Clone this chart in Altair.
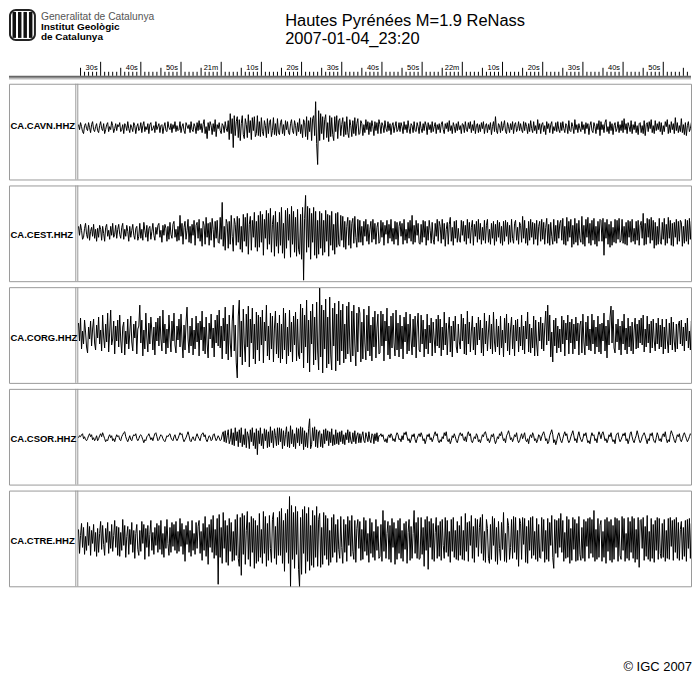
import altair as alt
import pandas as pd

FONT = "Liberation Sans"

STATIONS = ["CA.CAVN.HHZ", "CA.CEST.HHZ", "CA.CORG.HHZ", "CA.CSOR.HHZ", "CA.CTRE.HHZ"]
TITLE_1 = "Hautes Pyrénées M=1.9 ReNass"
TITLE_2 = "2007-01-04_23:20"
ORG_LINES = ["Generalitat de Catalunya", "Institut Geològic", "de Catalunya"]
COPYRIGHT = "© IGC 2007"

# time ruler (seconds)
TICK_TIMES = [30, 40, 50, 60, 70, 80, 90, 100, 110, 120, 130, 140, 150, 160, 170]
TICK_LABELS = ["30s", "40s", "50s", "21m", "10s", "20s", "30s", "40s", "50s",
               "22m", "10s", "20s", "30s", "40s", "50s"]
RULER_START, RULER_END = 25, 176
X_DOMAIN = [7.2, 176.9]
T0 = 24.5
DT = 0.25

# amplitudes (rows of 20 samples = 5 s each)
CAVN = [
    3, -2, 5, 1, -4, -6, 2, 4, -1, -3, 5, 0, -5, 3, 6, -2, -4, 1, 4, -3,
    -5, 2, 6, -1, -3, 4, -6, -2, 3, 5, -4, 1, -2, 6, 2, -5, -1, 4, -3, 3,
    1, 5, -4, -2, 3, -6, 4, 2, -3, 6, -1, -5, 3, 0, -4, 5, 2, -6, 1, 4,
    -3, -1, 5, -5, 2, 6, -4, 1, -2, 4, -6, 3, 5, -3, -1, 2, -5, 6, -2, 1,
    4, -5, 2, 3, -6, 1, 5, -3, -4, 6, 0, -2, 4, -5, 3, -1, 6, -4, 2, -3,
    -2, 6, -5, 1, 4, -3, -6, 5, 2, -1, 3, -5, 6, -2, -4, 4, 1, -6, 5, -3,
    7, -2, 4, -5, 3, 8, -6, 1, -11, 5, -3, 6, 2, -7, 4, -4, 8, -9, 3, -1,
    5, -3, -6, 4, 2, -5, 6, -1, -4, 7, -12, 14, -6, 9, -20, 12, -8, 6, 11, -10,
    8, -13, 4, 12, -7, -11, 9, 3, -10, 13, -5, 7, -12, 10, -3, 11, -9, -6, 12, -8,
    6, -9, 10, -4, -8, 7, 2, -10, 9, -6, 5, 8, -9, -3, 10, -7, 4, -8, 9, -5,
    -7, 5, 8, -6, 3, -8, 7, -2, 6, -5, -7, 4, 8, -3, -6, 7, 2, -8, 5, -4,
    9, -6, 3, -10, 8, 5, -9, 11, -12, 7, -4, 10, -13, 9, 12, -8, 26, -16, -37, 17,
    -13, 14, -6, 11, -12, 8, 13, -10, 5, -14, 12, -9, 10, -7, -13, 11, -4, 12, -11, 7,
    9, -8, 3, 10, -9, 6, -7, 11, -5, -10, 8, 2, -9, 7, -6, 10, -8, 4, 9, -7,
    -6, 7, 4, -8, 3, -5, 8, -2, 6, -7, 5, -4, 7, 1, -8, 6, -3, 5, -6, 8,
    3, -6, 5, 2, -5, 7, -1, -4, 6, -3, 4, -7, 2, 5, -5, 1, 6, -4, -2, 5,
    -4, 5, 1, -6, 6, -2, 3, -5, 7, -1, -6, 4, 2, -5, 6, -3, -4, 5, 1, -6,
    6, -1, -5, 4, -3, 6, 2, -7, 5, -2, 3, -5, 6, -4, 1, 5, -6, 3, -2, 4,
    -5, 3, 6, -2, -6, 4, -1, 5, -4, 7, -3, 2, -6, 5, 1, -5, 4, -3, 6, -2,
    2, -6, 4, 3, -5, 6, -2, -4, 5, -1, 6, -5, 3, -3, 7, -6, 2, 4, -5, 3,
    -4, 5, -1, 6, -6, 2, 4, -5, 3, -2, 5, -7, 1, 6, -4, 11, -3, -6, 4, 2,
    -5, 6, -3, 2, 7, -4, -6, 5, 1, -5, 4, -2, 6, -6, 3, 5, -4, -1, 6, -3,
    4, -2, -5, 6, -3, 5, 1, -6, 4, -4, 7, -1, -5, 6, -3, 2, -6, 8, -2, 4,
    -6, 3, 5, -4, 2, -7, 6, -1, 4, -5, 3, 6, -6, 1, -3, 5, -4, 6, -2, -5,
    5, -3, 6, -1, -5, 4, 2, -6, 7, -3, -4, 5, 1, -6, 8, -2, 3, -5, 4, -1,
    -4, 6, -2, 3, -6, 5, -1, 4, -7, 2, 6, -3, -5, 5, 1, -6, 4, -2, 7, -8,
    6, -2, 3, -5, 5, 8, -4, 1, -6, 6, -3, 4, -7, 2, 5, -4, -1, 6, -5, 3,
    -3, 7, -5, 9, -2, 4, -6, 5, 1, -4, 7, -6, 3, -2, 6, -5, 2, -7, 4, 5,
    -5, 2, -6, 7, -8, 3, 5, -4, 6, -1, 8, -5, 2, -6, 7, -3, 4, -2, 6, -4,
    5, -7, 2, -4, 6, 1, 8, -6, 3, -5, 6, -2, 4, -6, 10, -3, 5, -5, 2, -4,
    9, -5, 3, -7, 5, -8, 2, 6, -4, -1, 5, -6, 4, -7, 3, 6, -5, 1, -6, 4,
]

CEST = [
    6, -3, 8, 2, -7, -5, 4, 9, -2, -6, 7, -8, 1, 5, -4, 8, -6, 3, -9, 4,
    -5, 7, 3, -8, 6, -1, -9, 5, 8, -4, 2, -7, 6, -3, 9, -5, -2, 7, -6, 3,
    8, -2, -6, 5, 9, -7, 3, -4, 7, 1, -9, 6, -5, 2, 8, -3, -7, 4, 6, -8,
    -4, 9, -6, 3, -8, 10, 2, -5, 7, -9, 4, 6, -7, 1, 9, -3, -8, 5, -2, 7,
    9, -5, 2, -10, 7, -3, 8, 4, -9, 6, -7, 10, -2, -6, 8, 11, -5, 3, -9, 6,
    -8, 17, -4, 9, -12, 5, 11, -7, 2, 13, -10, 6, -11, 8, -3, 12, -13, 7, 10, -6,
    13, -9, 4, -14, 11, 7, -12, 15, -5, 9, -13, 10, -8, 14, 3, -15, 11, -6, 12, -10,
    -11, 15, -7, 30, -14, 6, -18, 13, 9, -16, 11, -12, 17, -4, -19, 14, 8, -13, 16, -10,
    14, -17, 6, -20, 18, -9, 15, -14, 19, -22, 8, 16, -18, 12, -5, 20, -15, 11, -19, 17,
    -15, 21, -10, 18, -23, 13, -6, 22, -17, 19, -12, 24, -20, 8, 17, -24, 21, -14, 10, -21,
    20, -13, 25, -21, 9, -26, 22, -16, 24, -8, 18, -25, 26, -12, 21, -20, 15, -24, 23, -17,
    -22, 18, -27, 25, -48, 14, 37, -20, 26, -15, 24, -27, 19, -10, 25, -23, 21, -26, 12, -22,
    21, -16, 19, -23, 12, -20, 22, -9, 18, -24, 17, -13, 21, -18, 8, -22, 19, -15, 20, -12,
    -14, 17, -8, 16, -15, 11, -17, 6, 15, -13, 12, -16, 9, 14, -11, 16, -5, -15, 13, -10,
    12, -10, 6, -13, 11, -4, 13, -9, 8, -12, 3, 11, -10, 13, -7, 9, -12, 5, 10, -11,
    -9, 12, -5, 10, -13, 7, -2, 12, -11, 8, -6, 13, -9, 4, -12, 11, -7, 10, -13, 6,
    11, -4, 9, -12, 13, -8, 3, -11, 10, -6, 12, -9, 17, -12, 7, -10, 12, -3, 9, -11,
    -12, 8, -10, 12, -5, 11, -13, 6, -8, 12, 2, -11, 10, -7, -12, 9, -4, 13, -9, 11,
    6, -11, 13, -7, 9, -14, 3, 10, -12, 8, 15, -9, 5, -13, 11, -6, 12, -10, 4, -8,
    -10, 12, -3, 11, -9, 7, -12, 13, -6, 10, -11, 5, 12, -13, 8, -4, 11, -10, 13, -7,
    9, -12, 5, -8, 12, -11, 7, 13, -10, 3, -12, 9, -6, 11, -13, 8, -9, 12, -5, 10,
    -11, 6, -13, 11, -9, 12, -4, 10, -12, 7, -10, 13, -6, -11, 9, 12, -8, 5, -12, 10,
    7, -10, 16, -6, 12, -11, 4, -13, 11, -8, 13, -5, 10, -12, 9, -7, 12, -13, 6, 11,
    -9, 13, -7, 10, -12, 5, 14, -11, 8, -13, 10, -4, -12, 13, -9, 7, -11, 12, -6, 9,
    12, -8, 14, -12, 6, -13, 15, -9, 11, -5, 13, -15, 7, -12, 14, -10, 9, -13, 12, -6,
    -10, 16, -12, 7, -14, 13, -5, 15, -11, 9, -13, 12, -8, 14, -12, 6, -14, 11, -9, 13,
    12, -9, 14, -23, 10, -6, 13, -12, 8, -15, 11, -13, 5, -10, 13, -11, 12, -7, 14, -10,
    -8, 13, -11, 6, -12, 10, -13, 12, -5, 11, -10, 13, -9, 4, -12, 11, -8, 12, -13, 7,
    11, -6, 19, -13, 9, -12, 14, -5, 13, -11, 15, -8, 12, -16, 10, -13, 6, -12, 14, -9,
    -12, 10, -7, 14, -13, 8, -11, 15, -6, 12, -13, 9, -14, 10, -5, 13, -12, 11, -9, 12,
    10, -14, 6, -11, 13, -9, 12, -12, 14, -7, 11, -13, 8, -12, 13, -6, 10, -12, 9, -13,
]

CORG = [
    12, -6, 17, -14, 4, -9, 15, 3, -12, -18, 8, -4, 14, -11, 6, 16, -8, -15, 10, -3,
    18, -9, 5, -16, 20, -2, -13, 11, -7, 22, -17, 3, 25, -10, -4, 14, -19, 9, -6, 15,
    -12, 20, -5, -18, 8, 13, -20, 4, -9, 16, -14, 2, 19, -7, -16, 11, -3, 14, -19, 6,
    9, 30, -8, 15, -21, 5, -14, 22, -3, -17, 12, -9, 18, 4, -15, 8, -20, 13, -6, 17,
    -11, 19, -4, -16, 25, -8, 11, -19, 6, -13, 20, -2, -17, 14, -6, 22, -10, -18, 9, -5,
    16, -12, 21, -6, -23, 10, -15, 13, 28, -4, -18, 9, -11, 17, -20, 5, -14, 19, -7, 12,
    -21, 14, -5, 24, -16, 8, -19, 18, -9, -23, 12, -4, 21, -13, 7, -22, 15, -8, 20, -11,
    25, -13, 9, -24, 17, -6, 28, -19, 11, -25, 20, -8, -22, 14, 30, -16, 10, -28, -43, 19,
    35, -22, 14, -30, 26, -9, -27, 21, -12, 29, -32, 16, -8, 27, -24, 11, -29, 23, -15, 20,
    -26, 18, -10, 25, -28, 13, -6, 30, -21, 9, -25, 22, -14, 19, -27, 7, 24, -19, 12, -23,
    20, -28, 11, -24, 27, -15, 22, -29, 8, -21, 25, -17, 13, -27, 19, -10, 23, -26, 16, -20,
    -24, 31, -18, 27, -33, 20, -12, 35, -28, 15, -37, 24, -9, 31, -30, 18, -25, 33, -16, -35,
    47, -22, 30, -38, 25, -14, 36, -33, 18, -29, 38, -20, -35, 27, -11, 32, -36, 21, -26, 34,
    -30, 25, -16, 31, -28, 11, -24, 29, -19, 33, -12, -27, 24, -21, 30, -9, -31, 22, -17, 28,
    22, -27, 13, -24, 26, -8, -25, 20, -16, 29, -21, 10, -26, 18, -12, 24, -23, 7, 21, -19,
    -18, 24, -11, 21, -26, 14, -6, 27, -20, 9, -24, 19, -13, 22, -8, -21, 25, -15, 12, -22,
    20, -14, 9, -24, 18, -7, 23, -19, 11, -16, 21, -5, -20, 16, -12, 19, -23, 8, 22, -15,
    -17, 20, -9, 15, -22, 6, -14, 21, -19, 10, -8, 17, -21, 13, -4, -18, 16, -11, 20, -13,
    16, -21, 8, -15, 23, -10, 12, -20, 5, 18, -17, 9, -22, 14, -6, 19, -12, -18, 11, -7,
    -14, 21, -6, 17, -19, 11, -20, 24, -9, 13, -17, 4, 19, -15, 8, -20, 12, -10, 18, -5,
    15, -18, 7, -21, 22, -9, 14, -16, 3, 20, -14, 11, -19, 23, -7, -17, 16, -12, 9, -20,
    19, -13, 5, -22, 17, -8, 21, -16, 12, -20, 6, 18, -14, 10, -21, 15, -6, 16, -17, 8,
    -11, 20, -15, 9, -19, 14, -4, 23, -17, 11, -18, 7, -13, 19, -21, 15, -9, -21, 13, -6,
    18, -14, 12, -16, 8, 24, -10, 30, -6, 20, -22, 3, -27, 15, -11, 17, -18, 9, -13, 6,
    -17, 19, -9, 15, -21, 12, -5, 20, -19, 13, -8, 16, -19, 11, -14, 18, -6, 12, -20, 10,
    14, -18, 21, -7, -20, 13, -11, 19, -15, 6, -16, 21, -9, 15, -19, 8, -12, 19, -17, 11,
    -19, 12, -6, 22, -16, 9, -23, 15, -10, 18, 29, -8, 25, -13, -18, 11, -7, 16, -15, 9,
    -20, 14, -9, 21, -15, 7, -19, 17, -12, 9, -16, 13, -19, 5, 17, -14, 11, -13, 15, -8,
    17, -10, 20, -17, 6, -12, 19, -8, 11, -18, 14, -13, 16, -6, -16, 12, -9, 17, -14, 10,
    -12, 16, -19, 8, -14, 16, -5, -18, 12, -10, 18, -15, 13, -7, -17, 11, -14, 10, 14, -9,
    15, -11, 8, -16, 12, -6, 17, -13, 4, -15, 14, -7, 16, -12, 9, -14, 6, 15, -11, 8,
]

CSOR = [
    0, 2, 1, 3, 4, -1, 1, -2, -3, -1, 2, 4, 1, 3, -2, 0, -3, -1, 2, -3,
    -1, 2, 4, 1, 5, 2, -1, -4, -2, -3, 1, 3, 0, 2, -3, -1, -4, 0, 3, 1,
    2, -2, -3, 1, 3, 5, 6, 1, -2, -4, -1, 2, -2, -3, 1, 3, 2, 4, -1, -3,
    -1, 2, 3, 1, -2, -5, -2, -3, 1, 2, 4, 1, -2, 0, -3, 1, 4, 5, 1, -3,
    -2, 1, 3, 2, -1, -3, -4, -1, 2, 1, 3, 4, 0, -2, -3, 1, 3, -1, -3, -1,
    2, 5, 3, 4, -1, -4, -2, 0, 3, 6, 2, -3, -4, -1, 1, -2, -3, 1, 4, 1,
    -1, -3, 2, 4, 5, 1, 3, -2, -4, -1, 2, 1, -3, -2, 3, 4, 0, -3, -1, 2,
    0, -3, -2, 3, 6, -4, 7, -5, 2, 8, -6, -2, 9, -7, 5, -8, 10, -3, 6, -9,
    8, -5, 10, -9, 3, -7, 9, -10, 6, 2, -11, 8, -4, 10, -8, 5, -11, 9, -17, 7,
    -6, 10, -8, 4, -11, 9, -3, 8, -10, 6, -9, 11, -5, 7, -10, 9, 2, -8, 10, -7,
    10, -4, 9, -11, 7, -8, 3, 11, -9, 6, -10, 12, -6, 8, -9, 4, -11, 10, -5, 9,
    -8, 11, -6, 10, -12, 7, -9, 5, -10, 9, 19, -11, -7, 10, -3, 11, -9, 8, -10, 6,
    7, -9, 4, -10, 8, -6, 9, -3, 7, -8, 6, -5, 9, -8, 3, -7, 8, -6, 5, -7,
    6, -4, 7, -6, 3, -7, 5, -2, 8, -5, 6, -3, -6, 5, -4, 7, -6, 2, 5, -5,
    4, -5, 2, 6, -3, -5, 5, 1, -4, 6, -2, -5, 4, 3, -6, 4, -3, 5, -4, 2,
    2, 4, 1, 3, -2, -4, -1, -5, 1, 3, 0, 4, 2, -3, -1, -4, 2, 5, 3, -2,
    -1, -4, 2, -2, 5, 3, 6, 1, -3, -1, -5, -2, 3, 1, 4, -2, -5, -1, 2, 4,
    1, 5, 2, -3, -1, -6, -2, 3, 1, 4, -2, 0, -4, -1, 3, 6, 2, 4, -3, -5,
    -2, -4, 1, -1, 5, 2, 6, -2, -4, -1, -6, -3, 2, 0, 4, 1, -3, -5, -1, 3,
    5, 2, 4, -1, -3, 1, -4, 3, 6, 2, 4, -3, -5, -2, 1, -1, 4, 2, -4, -2,
    -5, -1, 3, 1, 5, 6, 2, -3, -1, -5, -2, 3, 1, 4, -2, -6, -3, 1, -1, 4,
    2, 6, 1, -3, -1, -5, 2, 4, 7, 3, -2, 0, -4, -1, 3, 1, 5, -2, -5, -3,
    1, 4, -1, 2, 5, -2, -4, -1, -6, 1, 3, 0, 5, 2, -3, -1, -5, -2, 3, 2,
    -3, 1, 4, 6, 2, -3, -1, -6, -4, 2, 5, 8, 3, -5, -2, -7, -3, 2, 5, 1,
    -3, -5, -1, 3, 6, 2, 4, -2, -5, -3, 1, 4, 7, 2, -3, -1, -5, 2, 6, 1,
    -2, -4, -1, 4, 2, 5, -1, -5, -3, -6, 1, 5, 2, 3, -3, -1, -5, 2, 6, 3,
    -1, 4, 6, 2, -3, -1, -5, -2, 3, 1, 5, -1, -4, -2, -6, 2, 4, 5, -1, -4,
    -2, 1, 4, 2, 5, -3, -1, -6, -2, 4, 6, 1, -3, -5, -1, 2, 7, 3, -2, -5,
    -3, 1, 3, 5, 2, -2, -6, -1, -3, 4, 2, 5, -1, -4, -5, 0, 5, 2, -3, -1,
    -4, 2, 4, 1, 6, -1, -5, -2, -4, 3, 7, 4, 1, -3, -5, -1, 3, 1, 4, -2,
    -4, -1, 3, 5, 2, -1, -4, -2, 1, 4, 3, -2, -4, -1, 3, 5, 1, -2, -4, 1,
]

CTRE = [
    10, -14, 4, 16, -8, 12, -15, 3, -11, 17, -6, 13, -16, 9, -4, 15, -12, 7, -17, 11,
    -13, 6, 18, -10, 14, -5, -16, 11, -3, 17, -14, 8, -9, 15, -12, 4, 19, -8, 13, -16,
    12, -17, 7, -11, 20, -6, 14, -18, 3, 13, -15, 10, -5, 17, -13, 9, -19, 6, 15, -10,
    -16, 9, -12, 18, -4, 15, -20, 11, -8, 14, -17, 5, 19, -11, 7, -15, 12, -6, 16, -13,
    14, -10, 19, -15, 6, -18, 13, -9, 20, -4, -16, 12, -13, 17, -7, 15, -11, 18, -14, 8,
    -12, 21, -7, 16, -15, 10, -22, 14, -5, 18, -13, 9, -17, 19, -11, 6, -15, 17, -9, 13,
    19, -14, 8, -21, 16, -11, 23, -17, 12, -25, 15, -8, 20, -13, 24, -19, 10, -16, 21, -45,
    25, -18, 12, -24, 27, -9, 19, -23, 14, -26, 21, -12, 17, -22, 8, -21, 20, -16, 25, -19,
    -27, 22, -36, 26, -15, 24, -25, 9, 28, -20, 17, -27, 23, -13, 21, -29, 19, -24, 14, -22,
    26, -18, 10, -24, 28, -14, 23, -27, 16, -21, 24, -9, -23, 20, 27, -19, 13, -25, 22, -16,
    28, -16, 31, -24, 19, -32, 26, -13, 30, -24, 43, -48, 34, -20, 27, -29, 33, -15, 28, -30,
    -48, 22, -35, 30, -14, 33, -34, 26, -22, 32, -31, 14, -26, 29, -28, 24, -18, 33, -27, 20,
    26, -28, 12, -25, 27, -16, 24, -20, 21, -26, 9, -23, 22, -18, 25, -13, 15, -23, 20, -10,
    -19, 23, -8, -24, 20, -13, 15, -22, 23, -6, 19, -17, 24, -12, -20, 19, -23, 11, 20, -9,
    18, -21, 10, -20, 22, -12, 19, -16, 6, -23, 21, -14, 17, -18, 8, -21, 20, -11, 13, -19,
    -17, 15, -22, 29, -12, 19, -19, 6, 18, -20, 14, -23, 21, -8, 17, -25, 11, -20, 19, -14,
    21, -19, 9, -22, 16, -10, 18, -24, 7, 20, -21, 13, -19, 6, 29, -14, 17, -19, 22, -20,
    -19, 22, -15, 12, -27, 20, -11, 23, -30, 18, -8, 21, -20, 16, -22, 7, 22, -19, 14, -17,
    18, -21, 20, -6, -19, 22, -13, 19, -17, 8, -23, 20, -12, 22, -18, 9, -20, 18, -21, 14,
    -16, 23, -20, 9, -21, 26, -12, 17, -22, 18, -6, 24, -19, 13, -23, 21, -8, 20, -17, 12,
    22, -14, 25, -21, 8, -23, 20, 11, -19, -24, 15, -20, 23, -6, 21, -22, 12, -25, 18, -9,
    -21, 17, -10, 27, -22, 6, -23, 21, 14, -20, -8, 20, -19, 23, -13, 22, -20, 9, -27, 21,
    16, -20, 22, -5, 21, -23, 13, -24, 19, -11, 22, -19, 23, -16, 8, -20, 21, -22, 15, -18,
    -19, 22, -12, 20, -23, 9, -20, 21, -22, 17, -6, 24, -18, -29, 20, -14, 19, -18, 21, -8,
    26, -13, 19, -22, 7, -19, 23, -18, 20, -24, 11, -21, 22, -10, 20, -22, 16, -21, 23, -15,
    -21, 12, -19, 20, -22, 18, -7, 21, -19, 22, -14, 20, -18, 29, -22, 10, -20, 21, -18, 14,
    19, -22, 8, -18, 20, -24, 22, -12, 18, -21, 20, -23, 14, -20, 22, -8, 21, -22, 19, -16,
    -20, 23, -11, 21, -22, 6, -19, 22, -21, 18, -13, 23, -19, 21, -23, 10, -20, 22, -28, 19,
    20, -9, 22, -21, 13, -17, 24, -20, 8, -22, 21, -19, 15, -23, 19, -11, 22, -20, 21, -14,
    -19, 16, -18, 20, -22, 9, -19, 21, -20, 22, -7, 19, -21, 20, -13, 22, -19, 17, -21, 10,
    18, -20, 12, -17, 19, -22, 20, -9, 21, -19, 16, -21, 18, -12, 22, -20, 19, -15, 21, -20,
]

TRACES = [CAVN, CEST, CORG, CSOR, CTRE]

# layout constants
W = 684
H = 96
BASE_OFFSET = [4, 1, 0, -1, -1]
LABEL_Y = [45, 53, 54, 53, 54]
BORDER = "#9a9a9a"

xs = alt.Scale(domain=X_DOMAIN, nice=False, zero=False)
one = pd.DataFrame({"k": [0]})


def const_rule(color, width, **enc):
    return alt.Chart(one).mark_rule(color=color, strokeWidth=width).encode(**enc)


def panel(i):
    vals = TRACES[i]
    df = pd.DataFrame({"t": [T0 + DT * k for k in range(len(vals))], "a": vals})
    c = BASE_OFFSET[i]
    line = alt.Chart(df).mark_line(color="black", strokeWidth=1, clip=True).encode(
        x=alt.X("t:Q", scale=xs, axis=None),
        y=alt.Y("a:Q", scale=alt.Scale(domain=[-48 - c, 48 - c], nice=False, zero=False), axis=None),
    )
    sep1 = const_rule(BORDER, 1, x=alt.value(67), y=alt.value(0), y2=alt.value(H))
    sep2 = const_rule(BORDER, 1, x=alt.value(69), y=alt.value(0), y2=alt.value(H))
    lab = alt.Chart(pd.DataFrame({"s": [STATIONS[i]]})).mark_text(
        align="left", baseline="alphabetic", font=FONT, fontSize=9.5, fontWeight="bold", color="black"
    ).encode(x=alt.value(1.5), y=alt.value(LABEL_Y[i]), text="s:N")
    return alt.layer(sep1, sep2, line, lab).properties(
        width=W, height=H,
        view=alt.ViewBackground(stroke=BORDER, strokeWidth=1, strokeOpacity=1),
    )


# header
ruler_df = pd.DataFrame({"t": list(range(RULER_START, RULER_END + 1))})
ruler_df["kind"] = ["major" if t % 10 == 0 else ("mid" if t % 5 == 0 else "minor") for t in ruler_df["t"]]
rb = alt.Chart(ruler_df)
minor = rb.transform_filter("datum.kind == 'minor'").mark_rule(color="black", strokeWidth=1).encode(
    x=alt.X("t:Q", scale=xs, axis=None), y=alt.value(63), y2=alt.value(67))
mid = rb.transform_filter("datum.kind == 'mid'").mark_rule(color="black", strokeWidth=1).encode(
    x=alt.X("t:Q", scale=xs, axis=None), y=alt.value(59), y2=alt.value(67))
major = rb.transform_filter("datum.kind == 'major'").mark_rule(color="black", strokeWidth=1).encode(
    x=alt.X("t:Q", scale=xs, axis=None), y=alt.value(53), y2=alt.value(67))
tick_labels = alt.Chart(pd.DataFrame({"t": TICK_TIMES, "lab": TICK_LABELS})).mark_text(
    align="right", baseline="alphabetic", dx=-3, font=FONT, fontSize=7.5, color="black"
).encode(x=alt.X("t:Q", scale=xs, axis=None), y=alt.value(61), text="lab:N")
base_dark = const_rule("#666666", 2, x=alt.value(0), x2=alt.value(W), y=alt.value(68))
base_light = const_rule("#bbbbbb", 1.5, x=alt.value(0), x2=alt.value(W), y=alt.value(70))

title1 = alt.Chart(pd.DataFrame({"s": [TITLE_1]})).mark_text(
    align="left", baseline="alphabetic", font=FONT, fontSize=16.5, color="black"
).encode(x=alt.value(277), y=alt.value(17), text="s:N")
title2 = alt.Chart(pd.DataFrame({"s": [TITLE_2]})).mark_text(
    align="left", baseline="alphabetic", font=FONT, fontSize=16.5, color="black"
).encode(x=alt.value(277), y=alt.value(35), text="s:N")

org0 = alt.Chart(pd.DataFrame({"s": [ORG_LINES[0]]})).mark_text(
    align="left", baseline="alphabetic", font=FONT, fontSize=10.3, color="#555555"
).encode(x=alt.value(32), y=alt.value(11.5), text="s:N")
org1 = alt.Chart(pd.DataFrame({"s": [ORG_LINES[1]]})).mark_text(
    align="left", baseline="alphabetic", font=FONT, fontSize=10, fontWeight="bold", color="black"
).encode(x=alt.value(32), y=alt.value(21.5), text="s:N")
org2 = alt.Chart(pd.DataFrame({"s": [ORG_LINES[2]]})).mark_text(
    align="left", baseline="alphabetic", font=FONT, fontSize=10, fontWeight="bold", color="black"
).encode(x=alt.value(32), y=alt.value(31.5), text="s:N")

logo_outer = alt.Chart(one).mark_rect(color="#222222", cornerRadius=7).encode(
    x=alt.value(0), x2=alt.value(27), y=alt.value(0), y2=alt.value(32))
logo_inner = alt.Chart(one).mark_rect(color="white", cornerRadius=5).encode(
    x=alt.value(2), x2=alt.value(25), y=alt.value(2), y2=alt.value(30))
logo_bars = [
    alt.Chart(one).mark_rect(color="#111111").encode(
        x=alt.value(a), x2=alt.value(b), y=alt.value(3), y2=alt.value(29))
    for a, b in [(3.5, 7), (9, 12.5), (14.5, 18), (20, 23.5)]
]

header = alt.layer(
    logo_outer, logo_inner, *logo_bars, org0, org1, org2, title1, title2,
    base_light, base_dark, minor, mid, major, tick_labels,
).properties(width=W, height=69, view=alt.ViewBackground(strokeOpacity=0))

footer = alt.Chart(pd.DataFrame({"s": [COPYRIGHT]})).mark_text(
    align="right", baseline="alphabetic", font=FONT, fontSize=13, color="black"
).encode(x=alt.value(W + 1), y=alt.value(79), text="s:N").properties(
    width=W, height=82, view=alt.ViewBackground(strokeOpacity=0))

chart = alt.vconcat(
    header, *[panel(i) for i in range(5)], footer,
    spacing=6, bounds="flush", padding=0,
).configure_view(stroke=BORDER)

chart.save("out.html", embed_options={"renderer": "svg", "actions": False})
